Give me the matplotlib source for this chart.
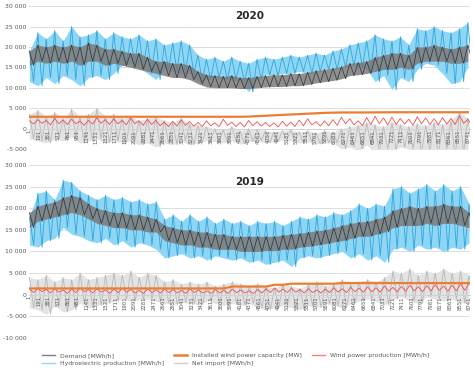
import numpy as np
import matplotlib
matplotlib.use("Agg")
import matplotlib.pyplot as plt
import matplotlib.ticker as mticker

# weekly readings (upper / lower edge of the hourly band)
hydro20_hi = [19000, 23500, 22000, 24000, 21500, 25000, 22500, 23000, 24000, 22000,
              23500, 22500, 22000, 23000, 21500, 22000, 20500, 21000, 21500, 20500,
              18000, 17000, 17500, 16500, 17500, 16500, 16000, 17000, 17500, 17000,
              17500, 18000, 17500, 18000, 18500, 18000, 19000, 19500, 20500, 21000,
              21500, 23000, 22000, 21500, 22500, 20500, 24500, 24000, 25000, 24000,
              23500, 24500, 26000]
hydro20_lo = [11500, 10500, 12500, 11000, 13000, 12000, 10500, 12500, 13000, 12000,
              13500, 15500, 16000, 15000, 13500, 12000, 14500, 14000, 13500, 13500,
              11500, 12000, 12500, 12000, 12000, 11500, 9000, 12000, 13200, 13000,
              13500, 13500, 14000, 13500, 14000, 14500, 14500, 15000, 15500, 15000,
              14500, 11500, 13000, 9500, 12500, 11500, 14500, 16000, 15500, 13500,
              11000, 11500, 15000]
demand20_hi = [19000, 20500, 20000, 20500, 20000, 20500, 20000, 21000, 20500, 19500,
               19500, 19000, 18500, 18500, 17500, 16500, 16500, 16000, 16000, 15500,
               14000, 13200, 13000, 12800, 13000, 12500, 12500, 12800, 13000, 13200,
               13200, 13500, 13500, 13800, 14200, 14500, 14800, 15200, 16000, 16200,
               16500, 17500, 18000, 18500, 18500, 18000, 20000, 20000, 20500, 20000,
               19500, 20000, 20500]
demand20_lo = [15500, 16500, 16000, 16500, 16000, 16500, 15500, 16500, 16500, 15500,
               16000, 15500, 15000, 14500, 14000, 13500, 13000, 12500, 12500, 12000,
               11000, 10200, 10000, 10000, 10000, 9800, 9800, 10000, 10200, 10300,
               10300, 10500, 10500, 10800, 11200, 11500, 11800, 12200, 13000, 13200,
               13500, 14000, 14500, 14500, 15000, 14500, 16000, 16500, 16500, 16500,
               16000, 16000, 16500]
wind20_hi = [1900, 2200, 2000, 2500, 2100, 2300, 1800, 2000, 2600, 2200,
             2400, 2000, 2700, 1900, 2300, 2000, 1600, 1800, 2200, 1700,
             1500, 1900, 1400, 2300, 1600, 1500, 2000, 1700, 1500, 1400,
             1800, 1600, 2100, 2400, 1700, 1900, 2200, 2800, 2400, 1900,
             2700, 3000, 2600, 2800, 2500, 2300, 2900, 2600, 2400, 2700,
             2500, 3200, 2300]
wind20_lo = [1100, 1300, 900, 1200, 1000, 1200, 800, 1100, 1300, 1000,
             1200, 900, 1200, 800, 1000, 700, 500, 600, 800, 600,
             500, 700, 500, 800, 500, 400, 700, 600, 500, 400,
             600, 500, 700, 900, 600, 700, 800, 1200, 900, 700,
             1000, 1200, 900, 1000, 1100, 800, 1200, 1000, 900, 1100,
             1000, 1300, 800]
netimp20_hi = [3500, 4500, 3000, 4000, 2500, 4800, 3000, 3500, 5000, 3000,
               3500, 2500, 3000, 2000, 2500, 2800, 2000, 1500, 2500, 1200,
               800, 500, 0, -300, 500, -500, 0, -200, -500, -800,
               -500, -300, -800, -500, -1000, -500, -800, 0, 500, 800,
               1500, 1000, 500, 1500, 1000, 500, 1200, 800, 1500, 1000,
               2000, 4000, 2500]
netimp20_lo = [-2500, -3000, -3500, -2500, -3000, -2000, -3500, -3000, -2500, -3500,
               -3000, -3500, -3000, -4000, -3500, -4500, -3500, -4000, -3000, -4000,
               -3500, -3000, -3200, -3500, -3000, -3800, -3200, -3000, -3500, -3200,
               -2800, -3000, -3500, -3200, -3800, -3500, -3500, -5000, -4500, -5500,
               -4000, -6000, -5000, -5500, -4500, -5000, -6000, -5500, -6500, -5000,
               -7000, -6000, -5500]
cap20 = [2900] * 26 + [2950, 3050, 3150, 3250, 3350, 3450, 3550, 3650, 3750, 3850,
                       3900, 3950, 3950] + [3950, 3950, 3980, 3980] + [4000] * 10

hydro19_hi = [18000, 23500, 24000, 22000, 26500, 26000, 24000, 23000, 22000, 23000,
              22000, 22500, 21500, 22000, 21000, 21500, 17500, 18500, 17000, 18500,
              17000, 18000, 16500, 17500, 16500, 17000, 16000, 17000, 16500, 17000,
              16000, 17000, 18000, 17500, 18500, 18000, 19000, 18500, 19500, 21000,
              20000, 21000, 20500, 24500, 25000, 23500, 24500, 25500, 24000, 25500,
              24000, 25000, 21000]
hydro19_lo = [11500, 11000, 12500, 13000, 15500, 14000, 13500, 12500, 12000, 13000,
              11500, 12500, 11000, 12000, 11500, 10500, 8500, 9000, 9500, 8500,
              9000, 8000, 9000, 8500, 8000, 8500, 7500, 8000, 7000, 7500,
              8000, 6500, 8500, 9000, 8500, 9000, 9500, 10000, 8500, 9500,
              8000, 9000, 7500, 10500, 11000, 10000, 11500, 10500, 11000, 10000,
              11000, 10500, 12000]
demand19_hi = [19000, 20500, 21000, 21500, 22500, 23000, 22500, 21000, 20000, 19500,
               19000, 19000, 18500, 18500, 18000, 17500, 16000, 15500, 15000, 15000,
               14500, 14500, 14000, 14000, 13500, 13500, 13500, 13500, 13500, 13500,
               13800, 14000, 14200, 14500, 14800, 15000, 15500, 16000, 16500, 16800,
               17000, 17500, 18000, 19500, 20000, 20500, 20000, 20500, 20500, 21000,
               20500, 20500, 19000]
demand19_lo = [15500, 17000, 17500, 18000, 18500, 19000, 18500, 17500, 16500, 16000,
               15500, 15500, 15000, 15000, 14500, 14500, 12500, 12000, 11500, 11500,
               11000, 11000, 10500, 10500, 10500, 10000, 10000, 10000, 10200, 10200,
               10500, 10500, 11000, 11200, 11500, 11800, 12200, 12500, 13000, 13500,
               13500, 14000, 14500, 15500, 16000, 16000, 16000, 16500, 16000, 16500,
               16500, 16000, 15500]
wind19_hi = [1300, 1500, 1200, 1400, 1100, 1300, 1600, 1200, 1400, 1100,
             1300, 1500, 1200, 1000, 1400, 1100, 1300, 1200, 1000, 1400,
             1100, 900, 1200, 1000, 1300, 1100, 900, 1200, 1400, 1600,
             1300, 1500, 1200, 1400, 1100, 1300, 1600, 1400, 1700, 1500,
             1800, 1600, 2000, 1700, 1900, 2200, 1800, 2100, 2300, 2000,
             2200, 2500, 2700]
wind19_lo = [500, 700, 400, 600, 300, 500, 700, 400, 600, 300,
             500, 600, 400, 300, 500, 400, 500, 400, 300, 500,
             400, 300, 400, 300, 500, 400, 300, 400, 500, 600,
             500, 600, 400, 500, 400, 500, 600, 500, 700, 600,
             700, 600, 800, 700, 800, 900, 700, 900, 1000, 800,
             900, 1000, 1100]
netimp19_hi = [4000, 3500, 4500, 3000, 4000, 3500, 5000, 3500, 4000, 4500,
               5000, 4500, 5500, 4000, 5000, 4500, 3000, 3500, 2500, 3000,
               2500, 3000, 2000, 2500, 3000, 2500, 2000, 2500, 2000, 1500,
               2500, 2000, 1500, 2500, 3000, 2000, 2500, 3500, 2500, 3000,
               3500, 3000, 4000, 5500, 5000, 6000, 4500, 5500, 5000, 6000,
               5000, 5500, 4500]
netimp19_lo = [-3000, -3500, -4500, -2500, -4000, -3500, -2000, -3000, -2500, -2000,
               -1500, -1000, -1500, -1200, -1000, -1500, -2000, -2300, -1800, -2000,
               -2300, -1500, -2000, -2500, -2000, -2500, -2000, -3000, -3500, -3000,
               -2500, -3000, -3500, -2500, -3000, -2000, -2500, -3000, -2000, -1500,
               -1000, -1500, -2500, -1000, -500, -1500, -2000, -500, -1000, -1500,
               -1000, -2000, -1500]
cap19 = [1450] * 24 + [1900] * 5 + [2300] * 2 + [2550] * 6 + [2700] * 16

labels = ["Demand [MWh/h]", "Hydroelectric production [MWh/h]",
          "Installed wind power capacity [MW]", "Net import [MWh/h]",
          "Wind power production [MWh/h]"]


def zigzag(x, hi, lo):
    xs = np.column_stack([x, x + 84]).ravel()
    ys = np.column_stack([hi, lo]).ravel()
    return xs, ys


def panel(ax, n_hours, dem_hi, dem_lo, hyd_hi, hyd_lo, net_hi, net_lo, w_hi, w_lo, cap, ymin, title):
    x = np.arange(len(dem_hi)) * 168 + 1
    yt = np.arange(ymin, 30001, 5000)
    # gridlines drawn by hand so the hour labels can sit above the series
    for v in yt:
        ax.axhline(v, color="#d9d9d9", lw=0.6, zorder=0)
    # net import
    ax.fill_between(x, net_lo, net_hi, color="#e3e3e3", lw=0, zorder=1)
    ax.plot(*zigzag(x, net_hi, net_lo), color="#b8b8b8", lw=0.6, zorder=1)
    # hydro
    ax.fill_between(x, hyd_lo, hyd_hi, color="#8fd6f4", lw=0, zorder=2)
    ax.plot(*zigzag(x, hyd_hi, hyd_lo), color="#2ea6de", lw=0.6, zorder=2)
    # demand
    ax.fill_between(x, dem_lo, dem_hi, color="#7a7a7a", alpha=0.85, lw=0, zorder=3)
    ax.plot(*zigzag(x, dem_hi, dem_lo), color="#333333", lw=0.5, zorder=3)
    # wind
    ax.plot(*zigzag(x, w_hi, w_lo), color="#f04e4e", lw=0.6, zorder=4)
    ax.plot(x, cap, color="#ed7d31", lw=1.6, zorder=5)

    ax.set_xlim(1, n_hours)
    ax.set_ylim(ymin, 30000)
    ax.set_yticks(yt)
    ax.yaxis.set_major_formatter(mticker.FuncFormatter(lambda v, p: f"{int(v):,}".replace(",", " ")))
    for s in ["top", "right", "left"]:
        ax.spines[s].set_visible(False)
    ax.spines["bottom"].set_position(("data", 0))
    ax.spines["bottom"].set_color("#d0d0d0")
    ax.spines["bottom"].set_linewidth(0.6)
    ticks = np.arange(1, n_hours, 190)
    ax.set_xticks(ticks)
    ax.set_xticklabels([str(t) for t in ticks], rotation=90, fontsize=3.9, color="#595959")
    ax.tick_params(axis="x", length=0, pad=1)
    ax.tick_params(axis="y", length=0, labelsize=4.4, labelcolor="#595959", pad=2)
    ax.text(0.5, 0.93 if ymin == -5000 else 0.9, title, transform=ax.transAxes,
            ha="center", va="center", fontsize=7.5, fontweight="bold", color="#262626")


fig = plt.figure(figsize=(4.74, 3.74), dpi=100)
ax1 = fig.add_axes([0.062, 0.6016, 0.93, 0.382])
ax2 = fig.add_axes([0.062, 0.0963, 0.93, 0.4626])

panel(ax1, 8784, demand20_hi, demand20_lo, hydro20_hi, hydro20_lo, netimp20_hi, netimp20_lo,
      wind20_hi, wind20_lo, cap20, -5000, "2020")
panel(ax2, 8760, demand19_hi, demand19_lo, hydro19_hi, hydro19_lo, netimp19_hi, netimp19_lo,
      wind19_hi, wind19_lo, cap19, -10000, "2019")

handles = [plt.Line2D([], [], color="#7f7f7f", lw=1),
           plt.Line2D([], [], color="#9dd6f2", lw=1),
           plt.Line2D([], [], color="#ed7d31", lw=1.8),
           plt.Line2D([], [], color="#d0d0d0", lw=1),
           plt.Line2D([], [], color="#ff7c80", lw=1)]
fig.legend(handles, labels, loc="center", bbox_to_anchor=(0.497, 0.039), ncol=3, frameon=False,
           fontsize=4.4, handlelength=2.2, handletextpad=0.8, columnspacing=1.6,
           labelspacing=0.45, labelcolor="#595959")

fig.savefig("out.png", dpi=100)
